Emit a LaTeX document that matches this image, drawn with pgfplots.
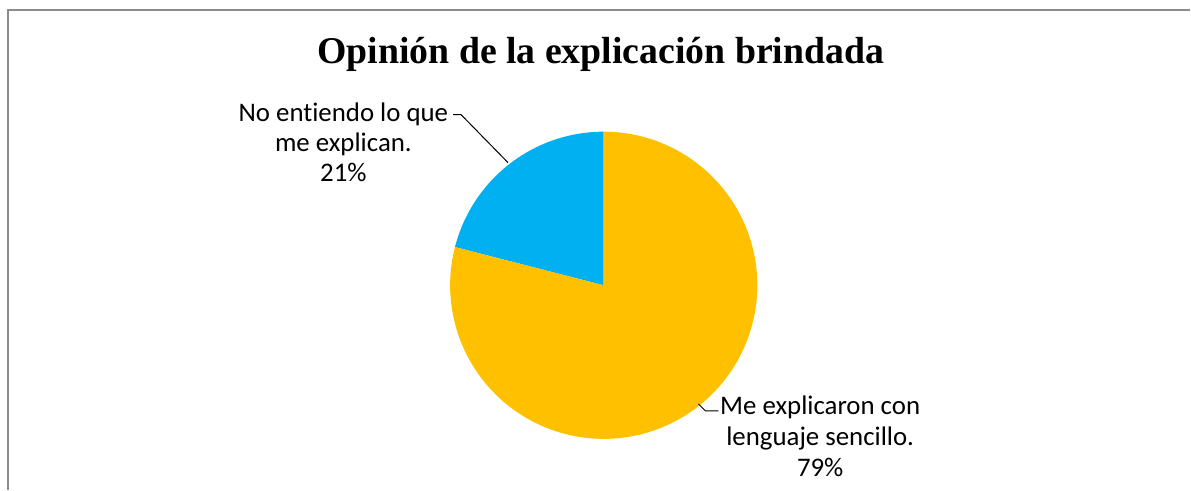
\documentclass[border=0pt]{standalone}
\usepackage{fontspec}
\setmainfont{Carlito}[Ligatures=NoCommon]
\newfontfamily\titlefont{Liberation Serif}
\usepackage{pgfplots}
\usepackage{pgfplotstable}
\pgfplotsset{compat=1.18}

\definecolor{sliceorange}{HTML}{FFC000}
\definecolor{sliceblue}{HTML}{00B0F0}
\definecolor{framegray}{HTML}{8C8C8C}

% share of answers, in percent
\pgfplotstableread{
label value
noentiendo 21
sencillo 79
}\opinion

\begin{document}
\pgfplotstablegetelem{0}{value}\of\opinion
\let\vblue\pgfplotsretval
\pgfmathsetmacro\angsplit{90+3.6*\vblue}
\begin{tikzpicture}
\begin{axis}[
    x=1bp, y=1bp,
    xmin=0, xmax=1191, ymin=0, ymax=491,
    scale only axis,
    hide axis,
    clip=false,
]
\path (axis cs:0,0) rectangle (axis cs:1191,491);
% chart frame
\draw[framegray, line width=1.5bp] (axis cs:6,0) -- (axis cs:6,481) -- (axis cs:1191,481);

% pie slices, centre (603,205), radius 154
\addplot[fill=sliceblue, draw=none, domain=90:\angsplit, samples=80]
    ({603+154*cos(x)}, {205+154*sin(x)}) -- (axis cs:603,205) -- cycle;
\addplot[fill=sliceorange, draw=none, domain=\angsplit:450, samples=200]
    ({603+154*cos(x)}, {205+154*sin(x)}) -- (axis cs:603,205) -- cycle;

% leader lines
\addplot[black, line width=1bp, mark=none] coordinates {(452,376) (460,376) (507,328)};
\addplot[black, line width=1bp, mark=none] coordinates {(698,86) (705,79) (718,79)};

% title
\node[anchor=base, font=\titlefont\bfseries\fontsize{38}{46}\selectfont]
    at (axis cs:600,427) {Opinión de la explicación brindada};

% data labels
\begin{scope}[every node/.style={anchor=base, font=\fontsize{27}{31}\selectfont, inner sep=0pt}]
\node at (axis cs:342,369) {No entiendo lo que};
\node at (axis cs:342,339) {me explican.};
\node at (axis cs:342,309) {21\%};
\node at (axis cs:820,75) {Me explicaron con};
\node at (axis cs:820,44) {lenguaje sencillo.};
\node at (axis cs:820,13) {79\%};
\end{scope}
\end{axis}
\end{tikzpicture}
\end{document}
